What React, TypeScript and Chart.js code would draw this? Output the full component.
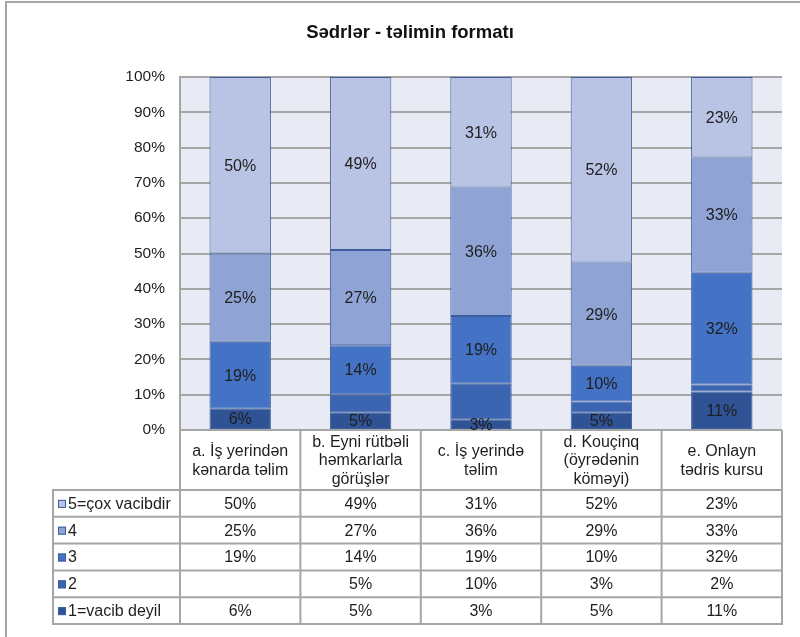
import React, { useEffect, useRef } from "react";
import { Chart, registerables } from "chart.js";

Chart.register(...registerables);

const chartTitle = "Sədrlər - təlimin formatı";
const categories: string[][] = [
  ["a. İş yerindən", "kənarda təlim"],
  ["b. Eyni rütbəli", "həmkarlarla", "görüşlər"],
  ["c. İş yerində", "təlim"],
  ["d. Kouçinq", "(öyrədənin", "köməyi)"],
  ["e. Onlayn", "tədris kursu"],
];
const seriesNames = ["1=vacib deyil", "2", "3", "4", "5=çox vacibdir"];
const vacibDeyil = [6, 5, 3, 5, 11];
const level2 = [null, 5, 10, 3, 2];
const level3 = [19, 14, 19, 10, 32];
const level4 = [25, 27, 36, 29, 33];
const cokVacibdir = [50, 49, 31, 52, 23];
const seriesValues: (number | null)[][] = [vacibDeyil, level2, level3, level4, cokVacibdir];
const seriesColors = ["#2f5395", "#3b65b0", "#4472c4", "#8fa3d5", "#b9c3e3"];
const showSegmentLabel = [true, false, true, true, true];

const FONT = '"Liberation Sans", Arial, sans-serif';
const TEXT = "#1e1e1e";
const GRID = "#a6a6a6";

const totals = categories.map((_, i) =>
  seriesValues.reduce((s, arr) => s + (arr[i] ?? 0), 0)
);

const decorPlugin = {
  id: "decor",
  beforeDraw(chart: any) {
    const { ctx, chartArea } = chart;
    ctx.save();
    ctx.fillStyle = "#ffffff";
    ctx.fillRect(0, 0, chart.width, chart.height);
    ctx.fillStyle = "#e8eaf4";
    ctx.fillRect(chartArea.left, chartArea.top, chartArea.right - chartArea.left, chartArea.bottom - chartArea.top);
    ctx.strokeStyle = "#a6a6a6";
    ctx.lineWidth = 2;
    ctx.beginPath();
    ctx.moveTo(6, chart.height);
    ctx.lineTo(6, 2);
    ctx.lineTo(chart.width, 2);
    ctx.stroke();
    ctx.restore();
  },
  afterDatasetsDraw(chart: any) {
    const { ctx } = chart;
    ctx.save();
    ctx.font = "16px " + FONT;
    ctx.fillStyle = TEXT;
    ctx.textAlign = "center";
    ctx.textBaseline = "middle";
    chart.data.datasets.forEach((ds: any, di: number) => {
      if (!showSegmentLabel[di]) return;
      const meta = chart.getDatasetMeta(di);
      meta.data.forEach((el: any, i: number) => {
        const raw = seriesValues[di][i];
        if (raw == null) return;
        const yc = (el.y + el.base) / 2;
        ctx.fillText(raw + "%", el.x, yc + 1);
      });
    });
    ctx.restore();
  },
  afterDraw(chart: any) {
    const { ctx, chartArea } = chart;
    ctx.save();
    ctx.font = "bold 18.5px " + FONT;
    ctx.fillStyle = "#111";
    ctx.textAlign = "center";
    ctx.textBaseline = "middle";
    ctx.fillText(chartTitle, 410, 33);

    const L = chartArea.left;
    const R = chartArea.right;
    const n = categories.length;
    const colW = (R - L) / n;
    const headTop = chartArea.bottom;
    const headBottom = 490;
    const rowH = 26.8;
    const tableLeft = 53;
    const rows = seriesNames.length;
    const tableBottom = headBottom + rowH * rows;

    ctx.strokeStyle = GRID;
    ctx.lineWidth = 2;
    ctx.beginPath();
    for (let i = 0; i <= n; i++) {
      const x = L + i * colW;
      ctx.moveTo(x, headTop);
      ctx.lineTo(x, tableBottom);
    }
    ctx.moveTo(tableLeft, headBottom);
    ctx.lineTo(tableLeft, tableBottom);
    for (let r = 0; r <= rows; r++) {
      const y = headBottom + r * rowH;
      ctx.moveTo(tableLeft - 1, y);
      ctx.lineTo(R + 1, y);
    }
    ctx.stroke();

    ctx.font = "16px " + FONT;
    ctx.fillStyle = TEXT;
    ctx.textAlign = "center";
    ctx.textBaseline = "middle";
    const lineH = 18.5;
    categories.forEach((lines, i) => {
      const cx = L + (i + 0.5) * colW;
      const cy = (headTop + headBottom) / 2 + 1;
      const start = cy - ((lines.length - 1) * lineH) / 2;
      lines.forEach((t, k) => ctx.fillText(t, cx, start + k * lineH));
    });

    for (let r = 0; r < rows; r++) {
      const si = rows - 1 - r;
      const cy = headBottom + (r + 0.5) * rowH + 1;
      ctx.fillStyle = seriesColors[si];
      ctx.fillRect(58, cy - 4.5, 8, 8);
      ctx.strokeStyle = "#3b5ea0";
      ctx.lineWidth = 1;
      ctx.strokeRect(58.5, cy - 4, 7, 7);
      ctx.fillStyle = TEXT;
      ctx.textAlign = "left";
      ctx.fillText(seriesNames[si], 68, cy);
      ctx.textAlign = "center";
      seriesValues[si].forEach((v, i) => {
        if (v == null) return;
        ctx.fillText(v + "%", L + (i + 0.5) * colW, cy);
      });
    }
    ctx.restore();
  },
};

export default function App() {
  const ref = useRef<HTMLCanvasElement | null>(null);
  useEffect(() => {
    if (!ref.current) return;
    const chart = new Chart(ref.current, {
      type: "bar",
      data: {
        labels: categories.map((c) => c.join(" ")),
        datasets: seriesNames.map((name, si) => ({
          label: name,
          data: seriesValues[si].map((v, i) => (v == null ? 0 : (v / totals[i]) * 100)),
          backgroundColor: seriesColors[si],
          borderColor: "#3d5e9e",
          borderWidth: 1,
          borderSkipped: false,
          categoryPercentage: 1,
          barPercentage: 0.51,
        })),
      },
      options: {
        responsive: false,
        animation: false,
        events: [],
        layout: { padding: { top: 77, bottom: 207, right: 18, left: 0 } },
        plugins: {
          legend: { display: false },
          title: { display: false },
          tooltip: { enabled: false },
        },
        scales: {
          x: { stacked: true, display: false },
          y: {
            stacked: true,
            min: 0,
            max: 100,
            ticks: {
              stepSize: 10,
              padding: 15,
              color: TEXT,
              font: { family: FONT, size: 15.5 },
              callback: (v: any) => v + "%",
            },
            grid: { color: GRID, lineWidth: 2, drawTicks: false },
            border: { color: GRID, width: 2 },
            afterFit: (scale: any) => {
              scale.width = 180;
            },
          },
        },
      },
      plugins: [decorPlugin],
    });
    return () => chart.destroy();
  }, []);
  return (
    <div style={{ position: "absolute", left: 0, top: 0, width: 800, height: 637 }}>
      <canvas ref={ref} width={800} height={637} style={{ display: "block" }} />
    </div>
  );
}
